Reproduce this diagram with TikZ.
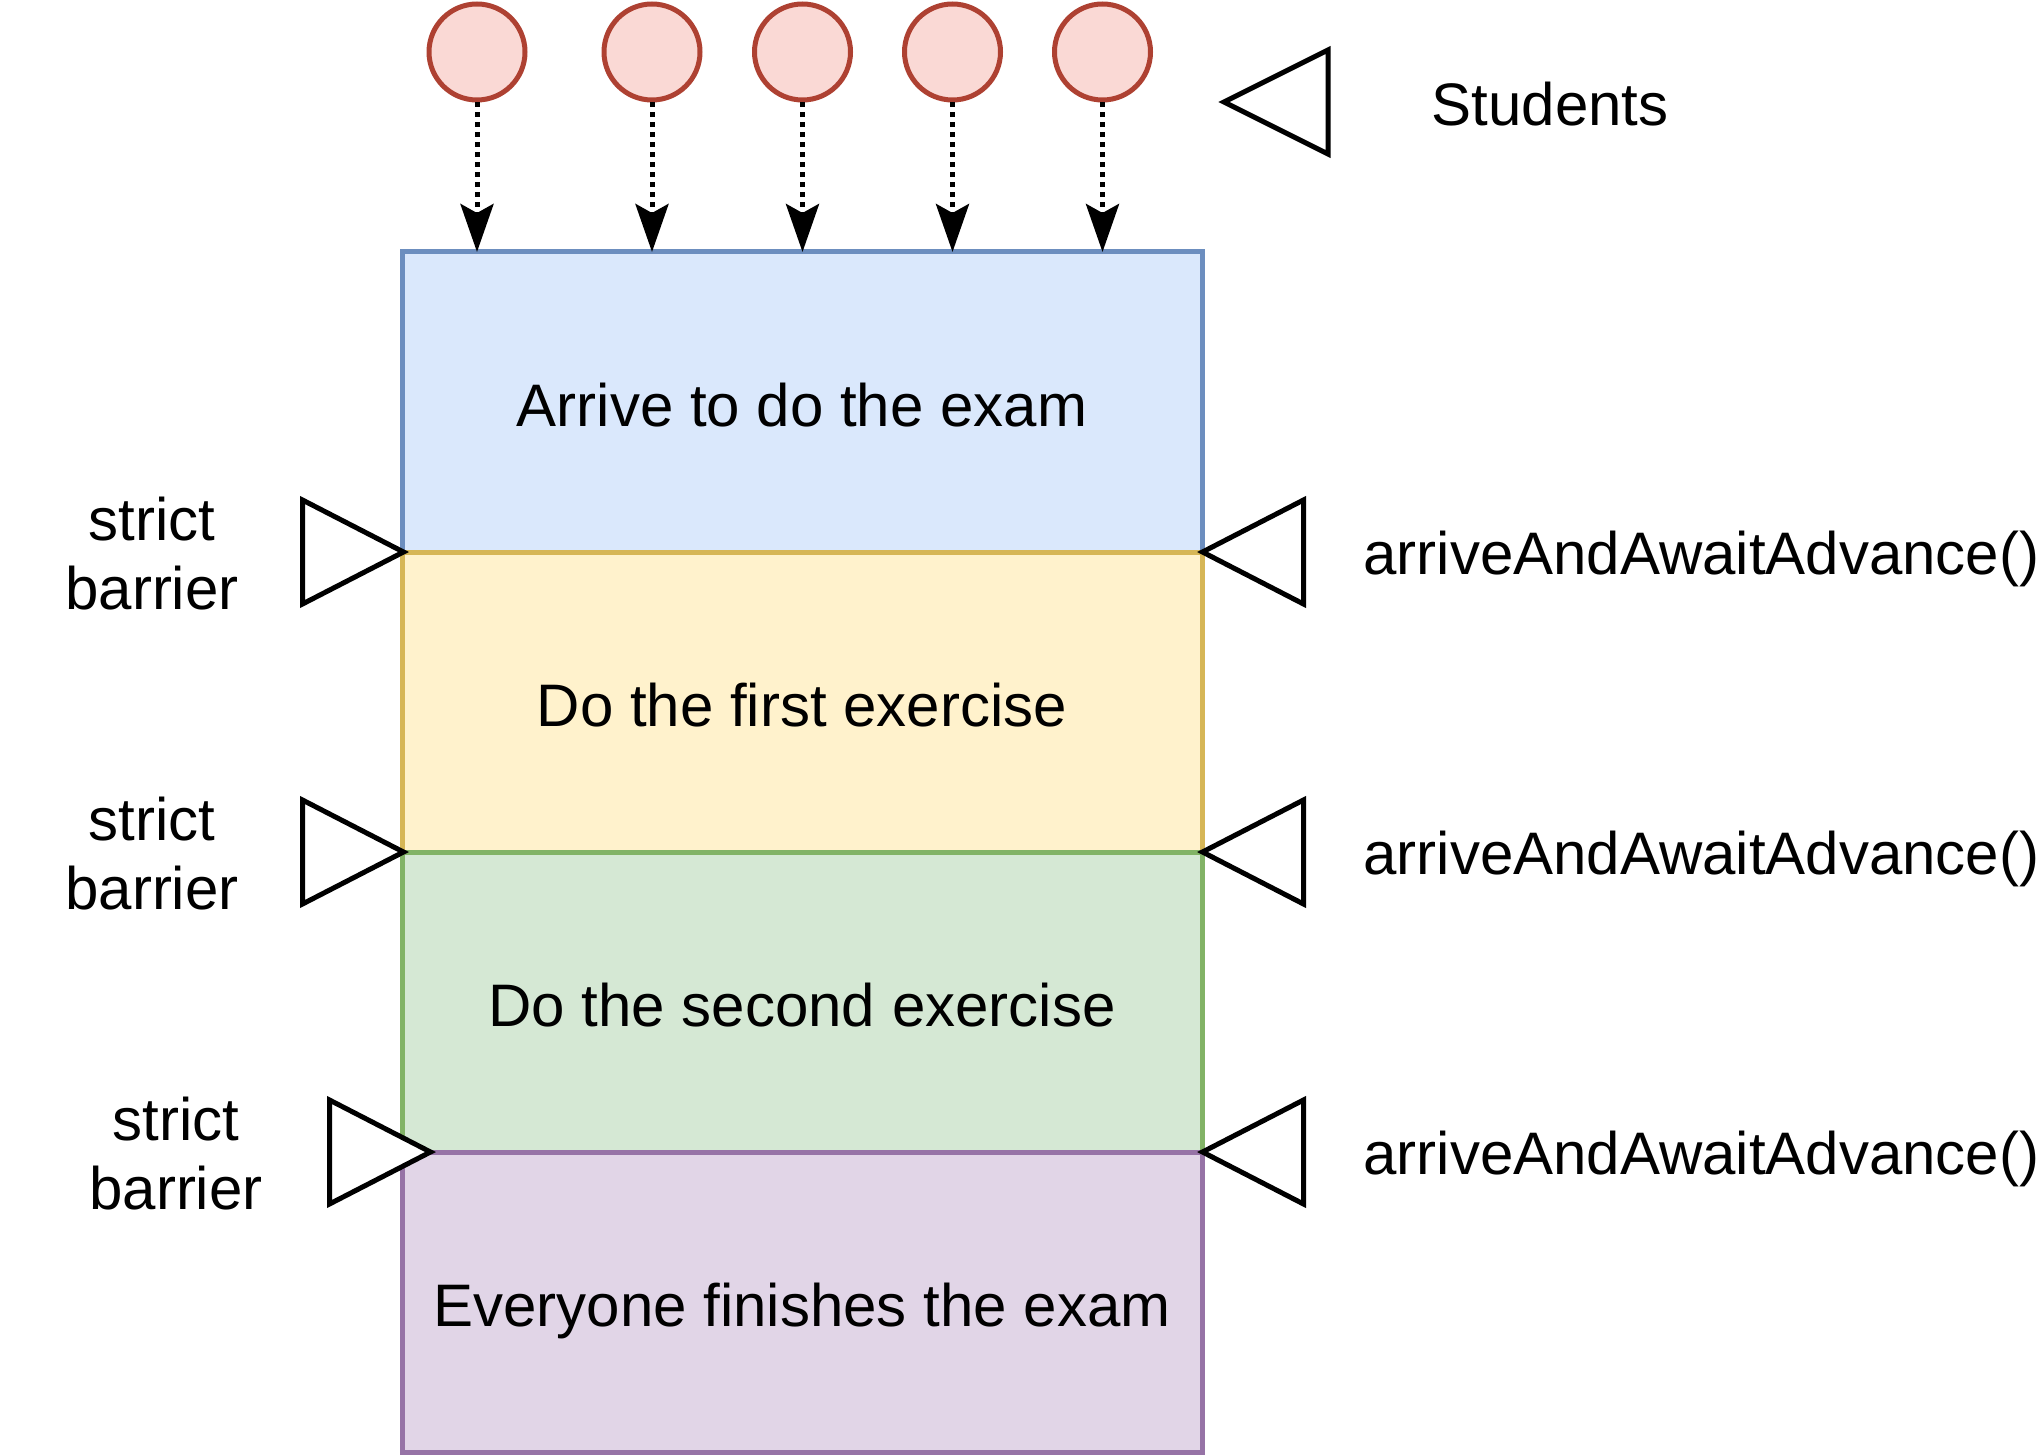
\documentclass[tikz,border=0pt]{standalone}
\usepackage{fontspec}
\setmainfont{Liberation Sans}
\usetikzlibrary{arrows.meta}
\definecolor{bluef}{HTML}{DAE8FC}\definecolor{blued}{HTML}{6C8EBF}
\definecolor{yelf}{HTML}{FFF2CC}\definecolor{yeld}{HTML}{D6B656}
\definecolor{grnf}{HTML}{D5E8D4}\definecolor{grnd}{HTML}{82B366}
\definecolor{purf}{HTML}{E1D5E7}\definecolor{purd}{HTML}{9673A6}
\definecolor{redf}{HTML}{FAD9D5}\definecolor{redd}{HTML}{AE4132}
\tikzset{
  lbl/.style={font=\fontsize{30pt}{34.5pt}\selectfont, inner sep=0pt, text depth=0pt},
  band/.style={draw=#1d, fill=#1f, line width=2.5pt, minimum width=400pt, minimum height=150pt, inner sep=0pt, outer sep=0pt, anchor=north west},
  student/.style={circle, draw=redd, fill=redf, line width=2.5pt, minimum size=48pt, inner sep=0pt},
  tri/.style={draw=black, fill=white, line width=2.5pt, line join=miter},
  flow/.style={line width=2.5pt, dash pattern=on 2.5pt off 2.5pt, -{Stealth[length=24pt,width=16.5pt,inset=4.5pt]}}
}
\begin{document}
\begin{tikzpicture}[x=0.5pt,y=-0.5pt]
\useasboundingbox (0,0) rectangle (2040,1455);
% bands
\node[band=blue] (bA) at (402.5,252) {};
\node[band=yel]  (bB) at (402.5,552) {};
\node[band=grn]  (bC) at (402.5,852) {};
\node[band=pur]  (bD) at (402.5,1152) {};
\node[lbl] (tA) at (802,405) {Arrive to do the exam};
\node[lbl] (tB) at (802,705) {Do the first exercise};
\node[lbl] (tC) at (802,1005) {Do the second exercise};
\node[lbl] (tD) at (802,1305) {Everyone finishes the exam};
% students
\foreach \i/\x in {1/477,2/652,3/802.5,4/952.5,5/1102.5}{
  \node[student] (c\i) at (\x,52) {};
  \draw[flow] (c\i) -- (c\i |- bA.north);
}
\draw[tri] (1224,102) -- (1328,50) -- (1328,154) -- cycle;
\node[lbl] (stud) at (1550,104) {Students};
% right barriers
\foreach \b in {bB,bC,bD}{
  \draw[tri] (\b.north east) -- ++(101,-52) -- ++(0,104) -- cycle;
}
\draw[tri] (bB.north west) ++(1,0) -- ++(-101,-52) -- ++(0,104) -- cycle;
\draw[tri] (bC.north west) ++(1,0) -- ++(-101,-52) -- ++(0,104) -- cycle;
\draw[tri] (bD.north west) ++(28,0) -- ++(-101,-52) -- ++(0,104) -- cycle;
\node[lbl, align=center] (s1) at (152,553) {strict\\barrier};
\node[lbl, align=center] (s2) at (152,853) {strict\\barrier};
\node[lbl, align=center] (s3) at (176,1153) {strict\\barrier};
\node[lbl, anchor=west] (a1) at (1363,553) {arriveAndAwaitAdvance()};
\node[lbl, anchor=west] (a2) at (1363,853) {arriveAndAwaitAdvance()};
\node[lbl, anchor=west] (a3) at (1363,1153) {arriveAndAwaitAdvance()};
\end{tikzpicture}
\end{document}
